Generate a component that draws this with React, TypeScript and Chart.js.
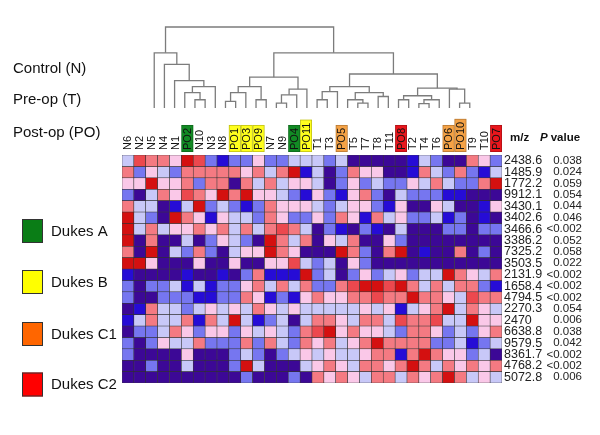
import React, { useEffect, useRef } from "react";
import { Chart, registerables } from "chart.js";

Chart.register(...registerables);

const FONT = '"Liberation Sans", Arial, Helvetica, sans-serif';

// ---------- data ----------
const columns = ["N6","N2","N5","N4","N1","PO2","N10","N3","N8","PO1","PO3","PO9","N7","N9","PO4","PO11","T1","T3","PO5","T5","T7","T8","T11","PO8","T2","T4","T6","PO6","PO10","T9","T10","PO7"];
const columnStage = ["","","","","","A","","","","B","B","B","","","A","B","","","C1","","","","","C2","","","","C1","C1","","","C2"];

const mzLabels = ["2438.6","1485.9","1772.2","9912.1","3430.1","3402.6","3466.6","3386.2","7325.2","3503.5","2131.9","1658.4","4794.5","2270.3","2470","6638.8","9579.5","8361.7","4768.2","5072.8"];
const pValues = ["0.038","0.024","0.059","0.054","0.044","0.046","<0.002","0.052","0.058","0.022","<0.002","<0.002","<0.002","0.054","0.006","0.038","0.042","<0.002","<0.002","0.006"];

const groupLabels = ["Control (N)", "Pre-op (T)", "Post-op (PO)"];
const legendLabels = ["Dukes A", "Dukes B", "Dukes C1", "Dukes C2"];
const legendStages = ["A", "B", "C1", "C2"];

// standardized intensity per m/z row (blue = low, red = high)
const r2438_6 = [-0.6,2,1.4,1.4,0.4,2.7,2,-1.5,-2.5,-1.5, -1.5,0.4,-1.5,-1.5,-0.6,-0.6,-0.6,-1.5,-0.6,-3,-3, -3,-3,-3,-2.5,-0.6,-1.5,-3,-3,1.4,0.4,-1.5];
const r1485_9 = [1.4,-1.5,0.4,-0.6,-1.5,1.4,1.4,1.4,1.4,1.4, 0.4,1.4,-0.6,1.4,2.7,-2.5,-0.6,-3,-1.5,1.4,0.4, 0.4,-3,-3,-2.5,1.4,-0.6,-1.5,1.4,-1.5,-2.5,-0.6];
const r1772_2 = [0.4,0.4,2.7,0.4,0.4,1.4,-1.5,1.4,1.4,-3, 1.4,-0.6,1.4,-0.6,0.4,0.4,-0.6,-3,-1.5,0.4,-1.5, -0.6,-1.5,-1.5,0.4,-0.6,1.4,-0.6,-1.5,-1.5,1.4,2.7];
const r9912_1 = [-1.5,-3,-0.6,1.4,0.4,2,1.4,0.4,2.7,1.4, 2.7,0.4,0.4,-0.6,-1.5,-2.5,0.4,-1.5,-2.5,0.4,1.4, -1.5,-3,-0.6,-1.5,-1.5,-1.5,-2.5,-2.5,-3,-3,-3];
const r3430_1 = [1.4,-0.6,-0.6,-3,-2.5,-0.6,2.7,-1.5,-0.6,-1.5, -2.5,-1.5,1.4,0.4,0.4,0.4,-0.6,-1.5,-0.6,0.4,0.4, -1.5,-2.5,0.4,-3,-3,0.4,-0.6,-3,-3,-2.5,0.4];
const r3402_6 = [2.7,-0.6,-1.5,-3,2.7,1.4,0.4,-2.5,0.4,-0.6, -0.6,-1.5,1.4,0.4,-1.5,-1.5,0.4,-1.5,1.4,0.4,-2.5, 1.4,-0.6,0.4,-1.5,-1.5,-0.6,-2.5,-1.5,-3,-2.5,-3];
const r3466_6 = [2.7,-0.6,1.4,-0.6,0.4,0.4,1.4,0.4,1.4,-0.6, 1.4,-0.6,1.4,2,1.4,-0.6,-3,-1.5,-2.5,-3,-1.5, -2.5,-3,-0.6,-3,-3,-3,-1.5,-1.5,-3,-1.5,-1.5];
const r3386_2 = [2.7,-3,1.4,-3,-3,-0.6,-3,-1.5,0.4,-0.6, -1.5,-3,2.7,1.4,-0.6,1.4,-3,0.4,-0.6,1.4,-3, -3,0.4,-1.5,-3,-3,-3,-3,-3,-3,-3,-3];
const r7325_2 = [1.4,-3,2.7,-3,-0.6,-1.5,1.4,-1.5,-3,-0.6, 0.4,0.4,2.7,1.4,0.4,-3,-3,-3,2.7,1.4,-1.5, -3,1.4,2.7,-3,-2.5,-3,-3,1.4,-3,-1.5,-3];
const r3503_5 = [2.7,2.7,0.4,-3,-3,-3,0.4,-3,-3,0.4, -3,-3,0.4,0.4,2,-0.6,-1.5,-0.6,-3,0.4,-1.5, -3,-3,-3,-3,-3,-3,-3,-3,-3,-3,-3];
const r2131_9 = [-2.5,-3,-3,-3,-3,-2.5,-3,-3,-2.5,-3, -1.5,1.4,-2.5,-2.5,-2.5,2.7,-1.5,-0.6,-3,-1.5,0.4, -1.5,-0.6,0.4,-1.5,-0.6,-0.6,2.7,1.4,0.4,-0.6,1.4];
const r1658_4 = [-1.5,-3,-1.5,-1.5,-0.6,-2.5,-0.6,-2.5,-1.5,-1.5, 0.4,1.4,-0.6,1.4,-0.6,1.4,-1.5,-1.5,1.4,2,2.7, 2.7,2,2.7,1.4,-0.6,1.4,-0.6,1.4,1.4,-1.5,-2.5];
const r4794_5 = [-1.5,-3,-3,-1.5,-1.5,-1.5,-2.5,-2.5,-1.5,-1.5, 1.4,0.4,-2.5,-1.5,-2.5,0.4,1.4,0.4,0.4,1.4,1.4, 2,1.4,1.4,2.7,1.4,1.4,0.4,-0.6,2,1.4,1.4];
const r2270_3 = [-3,-2.5,1.4,-0.6,-0.6,-1.5,-0.6,0.4,-0.6,0.4, -0.6,1.4,0.4,-0.6,0.4,-0.6,-0.6,-0.6,-0.6,-0.6,0.4, -0.6,0.4,-2.5,-0.6,0.4,1.4,2.7,-0.6,1.4,0.4,-0.6];
const r2470 = [-2.5,-0.6,1.4,-0.6,-0.6,1.4,-2.5,1.4,-0.6,2.7, -0.6,-2.5,-1.5,-0.6,-3,-0.6,1.4,1.4,0.4,-0.6,1.4, 1.4,-0.6,2,1.4,1.4,2,-0.6,-0.6,2.7,0.4,0.4];
const r6638_8 = [-3,-1.5,-1.5,-0.6,1.4,0.4,-1.5,0.4,0.4,-1.5, 0.4,-0.6,0.4,-0.6,-1.5,1.4,2,2.7,0.4,1.4,0.4, 0.4,-0.6,-1.5,1.4,1.4,0.4,-1.5,-0.6,-1.5,0.4,1.4];
const r9579_5 = [-1.5,-3,-1.5,0.4,-0.6,-0.6,1.4,-1.5,-1.5,-1.5, 1.4,-1.5,1.4,-0.6,-1.5,1.4,0.4,1.4,-0.6,0.4,1.4, 2.7,1.4,1.4,1.4,1.4,-1.5,-1.5,-0.6,-2.5,-1.5,-0.6];
const r8361_7 = [-1.5,-3,-3,-3,-3,0.4,-3,-3,-3,-1.5, -0.6,-1.5,-3,-1.5,-0.6,0.4,-0.6,0.4,-0.6,-0.6,0.4, 1.4,1.4,-2.5,1.4,2.7,1.4,0.4,0.4,-1.5,-0.6,-3];
const r4768_2 = [-3,-3,-1.5,-3,-3,-0.6,-3,-3,-3,-1.5, 2.7,-0.6,-3,-3,-3,-0.6,0.4,1.4,0.4,-0.6,1.4, 1.4,0.4,1.4,2.7,1.4,-0.6,1.4,0.4,1.4,0.4,1.4];
const r5072_8 = [-3,-3,-3,-3,-3,-3,-3,-3,-3,-3, -1.5,-3,-3,-3,-1.5,-3,1.4,0.4,1.4,0.4,-0.6, 1.4,1.4,-0.6,1.4,0.4,1.4,2.7,1.4,-0.6,0.4,-0.6];

const heatRows = [r2438_6, r1485_9, r1772_2, r9912_1, r3430_1, r3402_6, r3466_6, r3386_2, r7325_2, r3503_5, r2131_9, r1658_4, r4794_5, r2270_3, r2470, r6638_8, r9579_5, r8361_7, r4768_2, r5072_8];

// hierarchical clustering merges: [child A, child B, merge height]; leaves 0..31, merge k gets id 32+k
const merges: [number, number, number][] = [
  [4, 5, 0.102], [3, 32, 0.191], [33, 6, 0.265], [2, 34, 0.338], [1, 35, 0.539], [0, 36, 0.681],
  [7, 8, 0.081], [38, 9, 0.191], [10, 11, 0.102], [39, 40, 0.265],
  [12, 13, 0.061], [42, 14, 0.163], [43, 15, 0.233], [41, 44, 0.38],
  [16, 17, 0.102], [46, 18, 0.203], [20, 21, 0.061], [19, 48, 0.102], [22, 23, 0.142], [49, 50, 0.191], [47, 51, 0.265],
  [24, 25, 0.102], [26, 27, 0.053], [54, 28, 0.102], [53, 55, 0.151], [30, 31, 0.061], [29, 57, 0.233], [56, 58, 0.245],
  [52, 59, 0.42], [45, 60, 0.681], [37, 61, 1.0],
];

// ---------- styling ----------
const labelBoxColors: Record<string, string> = { A: "#128a24", B: "#ffff1e", C1: "#f4a246", C2: "#e8161c" };
const legendColors: Record<string, string> = { A: "#0a7d16", B: "#ffff00", C1: "#ff6600", C2: "#ff0000" };

const colorStops: [number, number[]][] = [
  [-3, [60, 8, 150]],
  [-2.5, [38, 12, 214]],
  [-1.5, [118, 118, 240]],
  [-0.6, [200, 200, 248]],
  [0.4, [250, 200, 232]],
  [1.4, [244, 122, 130]],
  [2.0, [236, 72, 78]],
  [2.7, [212, 16, 16]],
];
function colorFor(v: number): string {
  if (v <= colorStops[0][0]) return `rgb(${colorStops[0][1].join(",")})`;
  for (let k = 1; k < colorStops.length; k++) {
    const [v1, c1] = colorStops[k];
    const [v0, c0] = colorStops[k - 1];
    if (v <= v1) {
      const t = (v - v0) / (v1 - v0);
      const c = c0.map((a, idx) => Math.round(a + (c1[idx] - a) * t));
      return `rgb(${c.join(",")})`;
    }
  }
  return `rgb(${colorStops[colorStops.length - 1][1].join(",")})`;
}

// layout constants (pixels)
const AREA_LEFT = 122;
const AREA_TOP = 155;
const AREA_BOTTOM = 383;
const MZ_AXIS_W = 40;
const P_AXIS_W = 40;
const RIGHT_PAD = 18;
const DENDRO_BASE = 108;
const DENDRO_TOP = 27;

const dendroUnit = DENDRO_BASE - DENDRO_TOP;
const ydMax = (DENDRO_BASE - AREA_TOP) / dendroUnit;
const ydMin = (DENDRO_BASE - AREA_BOTTOM) / dendroUnit;

function buildDendro() {
  const nx: number[] = columns.map((_, i) => i);
  const nh: number[] = columns.map(() => 0);
  const sets: any[] = [];
  merges.forEach(([a, b, h]) => {
    sets.push({
      type: "line",
      xAxisID: "xd",
      yAxisID: "yd",
      data: [
        { x: nx[a], y: nh[a] },
        { x: nx[a], y: h },
        { x: nx[b], y: h },
        { x: nx[b], y: nh[b] },
      ],
      borderColor: "#7c7c7c",
      borderWidth: 1.3,
      pointRadius: 0,
      tension: 0,
      fill: false,
      clip: false,
    });
    nx.push((nx[a] + nx[b]) / 2);
    nh.push(h);
  });
  return sets;
}

const decorPlugin = {
  id: "decor",
  afterDraw(chart: any) {
    const { ctx, chartArea } = chart;
    const xs = chart.scales.x;
    const cellW = (chartArea.right - chartArea.left) / columns.length;
    ctx.save();

    // column labels with stage boxes
    ctx.font = `11px ${FONT}`;
    columns.forEach((label, i) => {
      const cx = xs.getPixelForValue(i);
      const base = chartArea.top - 5;
      const tw = ctx.measureText(label).width;
      const stage = columnStage[i];
      if (stage) {
        const top = base - tw - 3;
        ctx.fillStyle = labelBoxColors[stage];
        ctx.fillRect(cx - cellW / 2, top, cellW, tw + 5);
        ctx.strokeStyle = "rgba(0,0,0,0.28)";
        ctx.lineWidth = 0.7;
        ctx.strokeRect(cx - cellW / 2 + 0.35, top + 0.35, cellW - 0.7, tw + 5 - 0.7);
      }
      ctx.save();
      ctx.translate(cx, base);
      ctx.rotate(-Math.PI / 2);
      ctx.fillStyle = "#111";
      ctx.textAlign = "left";
      ctx.textBaseline = "middle";
      ctx.fillText(label, 0, 0.5);
      ctx.restore();
    });

    // group labels on the left
    ctx.font = `15px ${FONT}`;
    ctx.fillStyle = "#111";
    ctx.textAlign = "left";
    ctx.textBaseline = "middle";
    const groupY = [69, 100, 133];
    groupLabels.forEach((g, k) => ctx.fillText(g, 13, groupY[k]));

    // Dukes legend
    const legendY = [231, 282, 334, 384.5];
    legendLabels.forEach((lab, k) => {
      const cy = legendY[k];
      ctx.fillStyle = legendColors[legendStages[k]];
      ctx.fillRect(22, cy - 12, 21, 24);
      ctx.strokeStyle = "#333";
      ctx.lineWidth = 1;
      ctx.strokeRect(22.5, cy - 11.5, 20, 23);
      ctx.fillStyle = "#111";
      ctx.font = `15px ${FONT}`;
      ctx.fillText(lab, 51, cy + 0.5);
    });

    // header over right-hand labels
    ctx.fillStyle = "#111";
    ctx.font = `bold 11.5px ${FONT}`;
    ctx.fillText("m/z", 510, 138);
    ctx.font = `italic bold 11.5px ${FONT}`;
    ctx.fillText("P", 540, 138);
    const pw = ctx.measureText("P").width;
    ctx.font = `bold 11.5px ${FONT}`;
    ctx.fillText("value", 540 + pw + 3, 138);

    ctx.restore();
  },
};

export default function App() {
  const ref = useRef<HTMLCanvasElement>(null);
  useEffect(() => {
    const canvas = ref.current;
    if (!canvas) return;
    const heatSets = heatRows.map((row, j) => ({
      type: "bar",
      label: mzLabels[j],
      xAxisID: "x",
      yAxisID: "y",
      data: row.map(() => [j, j + 1]),
      backgroundColor: row.map(colorFor),
      borderColor: "rgba(40,40,40,0.9)",
      borderWidth: 0.6,
      borderSkipped: false,
      barPercentage: 1,
      categoryPercentage: 1,
      grouped: false,
    }));
    const chart = new Chart(canvas, {
      type: "bar",
      data: { labels: columns, datasets: [...heatSets, ...buildDendro()] as any },
      options: {
        responsive: false,
        animation: false,
        devicePixelRatio: 1,
        events: [],
        layout: { padding: { left: AREA_LEFT, top: AREA_TOP, bottom: 435 - AREA_BOTTOM, right: RIGHT_PAD } },
        plugins: { legend: { display: false }, tooltip: { enabled: false } },
        scales: {
          x: { type: "category", display: false, offset: true },
          y: { type: "linear", display: false, min: 0, max: heatRows.length, reverse: true },
          xd: { type: "linear", display: false, min: -0.5, max: columns.length - 0.5 },
          yd: { type: "linear", display: false, min: ydMin, max: ydMax },
          ymz: {
            type: "category",
            position: "right",
            labels: mzLabels,
            offset: true,
            weight: 0,
            grid: { display: false, drawTicks: false },
            border: { display: false },
            ticks: { autoSkip: false, padding: 2, color: "#222", crossAlign: "near", font: { family: FONT, size: 12.5 } },
            afterFit: (s: any) => { s.width = MZ_AXIS_W; },
          },
          yp: {
            type: "category",
            position: "right",
            labels: pValues,
            offset: true,
            weight: 1,
            grid: { display: false, drawTicks: false },
            border: { display: false },
            ticks: { autoSkip: false, padding: 0, color: "#222", crossAlign: "far", font: { family: FONT, size: 11.5 } },
            afterFit: (s: any) => { s.width = P_AXIS_W; },
          },
        } as any,
      },
      plugins: [decorPlugin],
    } as any);
    return () => chart.destroy();
  }, []);
  return (
    <div style={{ position: "absolute", left: 0, top: 0, width: 600, height: 435, background: "#fff" }}>
      <canvas ref={ref} width={600} height={435} style={{ display: "block", width: 600, height: 435 }} />
    </div>
  );
}
